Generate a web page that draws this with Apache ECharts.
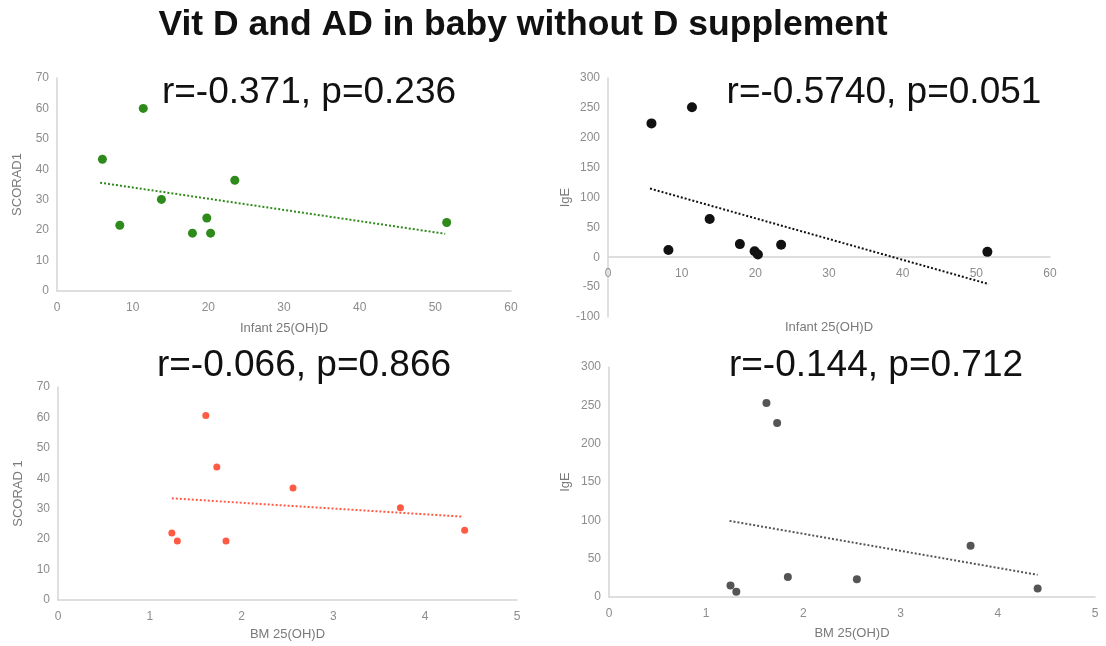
<!DOCTYPE html>
<html>
<head>
<meta charset="utf-8">
<script src="https://cdn.jsdelivr.net/npm/echarts@6/dist/echarts.min.js"></script>
<style>
  html, body { margin: 0; padding: 0; background: #fff; }
  #chart { width: 1106px; height: 646px; }
</style>
</head>
<body>
<div id="chart"></div>
<script>
// values
var infantD1 = [6.0, 11.4, 8.3, 13.8, 23.5, 17.9, 19.8, 20.3, 51.5];
var scorad1 = [43.3, 60.0, 21.6, 30.1, 36.4, 19.0, 24.0, 19.0, 22.5];
var trend1X = [5.7, 51.3];
var trend1Y = [35.6, 18.8];

var infantD2 = [5.9, 11.4, 8.2, 13.8, 17.9, 19.9, 20.35, 23.5, 51.5];
var ige2 = [224, 251, 12, 64, 22, 10, 4.5, 21, 9];
var trend2X = [5.7, 51.7];
var trend2Y = [115, -45];

var bmD3 = [1.61, 1.73, 2.56, 3.73, 4.43, 1.24, 1.30, 1.83];
var scorad3 = [60.6, 43.7, 36.8, 30.3, 22.9, 22.0, 19.4, 19.4];
var trend3X = [1.24, 4.41];
var trend3Y = [33.4, 27.4];

var bmD4 = [1.62, 1.73, 1.25, 1.31, 1.84, 2.55, 3.72, 4.41];
var ige4 = [253, 227, 15, 7, 26, 23, 67, 11];
var trend4X = [1.24, 4.41];
var trend4Y = [99.3, 28.9];

var mainTitle = 'Vit D and AD in baby without D supplement';
var panelTitles = ['r=-0.371, p=0.236', 'r=-0.5740, p=0.051', 'r=-0.066, p=0.866', 'r=-0.144, p=0.712'];

var font = '"Liberation Sans", Arial, Helvetica, sans-serif';
var axisGrey = '#d4d4d4';
var labelGrey = '#8c8c8c';

function pairs(xs, ys) {
  return xs.map(function (x, i) { return [x, ys[i]]; });
}

function xAx(idx, name, max, interval, gap, offset) {
  return {
    type: 'value', gridIndex: idx, min: 0, max: max, interval: interval,
    name: name, nameLocation: 'middle', nameGap: gap,
    offset: offset || 0,
    nameTextStyle: { color: '#7a7a7a', fontSize: 13, fontFamily: font },
    axisLine: { show: true, onZero: false, lineStyle: { color: axisGrey, width: 1.5 } },
    axisTick: { show: false },
    splitLine: { show: false },
    axisLabel: { color: labelGrey, fontSize: 12, fontFamily: font, margin: 11 }
  };
}

function yAx(idx, name, min, max, interval, gap) {
  return {
    type: 'value', gridIndex: idx, min: min, max: max, interval: interval,
    name: name, nameLocation: 'middle', nameGap: gap,
    nameTextStyle: { color: '#7a7a7a', fontSize: 13, fontFamily: font },
    axisLine: { show: true, onZero: false, lineStyle: { color: axisGrey, width: 1.5 } },
    axisTick: { show: false },
    splitLine: { show: false },
    axisLabel: { color: labelGrey, fontSize: 12, fontFamily: font, margin: 8 }
  };
}

function panel(idx, xs, ys, tx, ty, color, size) {
  return [
    {
      type: 'scatter', xAxisIndex: idx, yAxisIndex: idx,
      data: pairs(xs, ys), symbolSize: size,
      itemStyle: { color: color, opacity: 1 }, silent: true
    },
    {
      type: 'line', xAxisIndex: idx, yAxisIndex: idx,
      data: pairs(tx, ty), symbol: 'none',
      lineStyle: { color: color, width: 2, type: [2, 2] }, silent: true
    }
  ];
}

var titleStyle = { color: '#111', fontSize: 37, fontWeight: 'normal', fontFamily: font };

var option = {
  animation: false,
  backgroundColor: '#fff',
  title: [
    { text: mainTitle, left: 518, top: 2, textAlign: 'center',
      textStyle: { color: '#111', fontSize: 35.5, fontWeight: 'bold', fontFamily: font } },
    { text: panelTitles[0], left: 304, top: 69, textAlign: 'center', textStyle: titleStyle },
    { text: panelTitles[1], left: 879, top: 69, textAlign: 'center', textStyle: titleStyle },
    { text: panelTitles[2], left: 299, top: 342, textAlign: 'center', textStyle: titleStyle },
    { text: panelTitles[3], left: 871, top: 342, textAlign: 'center', textStyle: titleStyle }
  ],
  grid: [
    { left: 57, top: 78, width: 454, height: 213 },
    { left: 608, top: 78, width: 442, height: 239 },
    { left: 58, top: 387, width: 459, height: 213 },
    { left: 609, top: 367, width: 486, height: 230 }
  ],
  xAxis: [
    xAx(0, 'Infant 25(OH)D', 60, 10, 31),
    // x axis of the IgE panel sits on the zero line, 60px above the grid bottom
    xAx(1, 'Infant 25(OH)D', 60, 10, 64, -60),
    xAx(2, 'BM 25(OH)D', 5, 1, 28),
    xAx(3, 'BM 25(OH)D', 5, 1, 30)
  ],
  yAxis: [
    yAx(0, 'SCORAD1', 0, 70, 10, 33),
    yAx(1, 'IgE', -100, 300, 50, 35),
    yAx(2, 'SCORAD 1', 0, 70, 10, 33),
    yAx(3, 'IgE', 0, 300, 50, 37)
  ],
  series: [].concat(
    panel(0, infantD1, scorad1, trend1X, trend1Y, '#2f8a1c', 9),
    panel(1, infantD2, ige2, trend2X, trend2Y, '#111111', 10),
    panel(2, bmD3, scorad3, trend3X, trend3Y, '#ff5a44', 7),
    panel(3, bmD4, ige4, trend4X, trend4Y, '#555555', 8)
  )
};

var chart = echarts.init(document.getElementById('chart'));
chart.setOption(option);
</script>
</body>
</html>
